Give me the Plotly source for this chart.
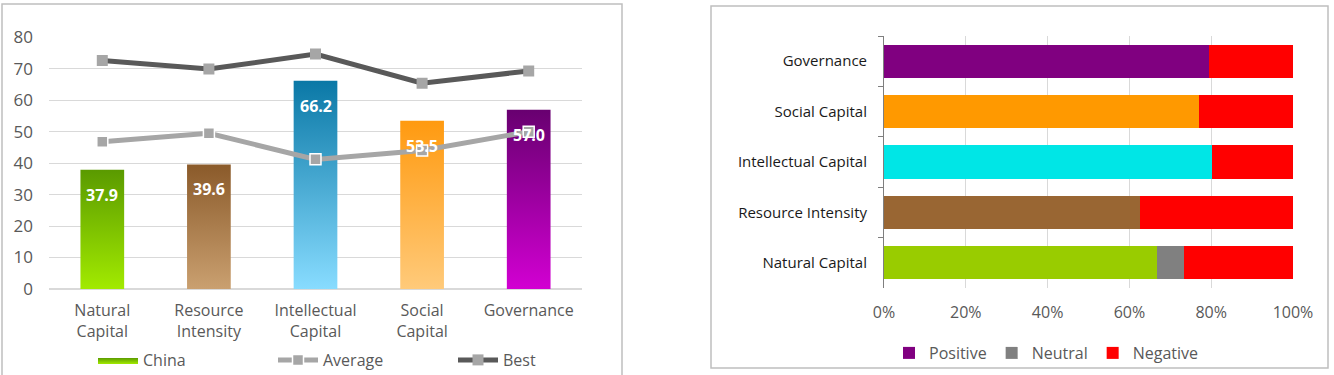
import plotly.graph_objects as go

# ---------------- data ----------------
categories = ["Natural Capital", "Resource Intensity", "Intellectual Capital", "Social Capital", "Governance"]
tick_labels_left = ["Natural<br>Capital", "Resource<br>Intensity", "Intellectual<br>Capital", "Social<br>Capital", "Governance"]
china = [37.9, 39.6, 66.2, 53.5, 57.0]
average = [46.8, 49.5, 41.2, 44.0, 50.0]
best = [72.6, 69.9, 74.7, 65.4, 69.3]
y_ticks = [0, 10, 20, 30, 40, 50, 60, 70, 80]

# right chart (top to bottom)
cats_right = ["Governance", "Social Capital", "Intellectual Capital", "Resource Intensity", "Natural Capital"]
positive = [79.5, 77.0, 80.2, 62.5, 66.7]
neutral = [0.0, 0.0, 0.0, 0.0, 6.7]
negative = [20.5, 23.0, 19.8, 37.5, 26.6]
pct_ticks = [0, 20, 40, 60, 80, 100]

# ---------------- styles ----------------
W, H = 1334, 375
FONT = "Open Sans"
GRAY_TXT = "#595959"
bar_grad = [("#a2ea00", "#5a9a00"), ("#caa070", "#8a5a2a"), ("#88dcff", "#0a78a6"),
            ("#ffca7a", "#ff9a10"), ("#d200d2", "#680070")]
pos_colors = ["#800080", "#ff9900", "#00e6e6", "#996633", "#99cc00"]

fig = go.Figure()

# left chart: gradient bars drawn as filled polygons on a numeric category axis
bw = 0.41
for i, v in enumerate(china):
    bottom, top = bar_grad[i]
    fig.add_trace(go.Scatter(
        x=[i - bw / 2, i + bw / 2, i + bw / 2, i - bw / 2, i - bw / 2],
        y=[0, 0, v, v, 0],
        mode="lines", fill="toself", line=dict(width=0),
        fillgradient=dict(type="vertical", colorscale=[[0, bottom], [1, top]], start=0, stop=v),
        name="China", legendgroup="china", showlegend=(i == 0),
        legend="legend", hoverinfo="skip", xaxis="x", yaxis="y"))

idx = list(range(len(categories)))
fig.add_trace(go.Scatter(x=idx, y=average, mode="lines+markers", name="Average",
                         line=dict(color="#a6a6a6", width=5),
                         marker=dict(symbol="square", size=11, color="#a6a6a6",
                                     line=dict(color="white", width=1.5)),
                         legend="legend", xaxis="x", yaxis="y"))
fig.add_trace(go.Scatter(x=idx, y=best, mode="lines+markers", name="Best",
                         line=dict(color="#595959", width=5),
                         marker=dict(symbol="square", size=11, color="#a6a6a6"),
                         legend="legend", xaxis="x", yaxis="y"))

for i, v in enumerate(china):
    fig.add_annotation(x=i, y=v, xref="x", yref="y", text=f"<b>{v:.1f}</b>",
                       showarrow=False, yshift=-25,
                       font=dict(family=FONT, size=16, color="white"))

# right chart: stacked horizontal bars
fig.add_trace(go.Bar(y=cats_right, x=positive, orientation="h", name="Positive",
                     marker=dict(color=pos_colors, line=dict(width=0)),
                     legend="legend2", xaxis="x2", yaxis="y2"))
fig.add_trace(go.Bar(y=cats_right, x=neutral, orientation="h", name="Neutral",
                     marker=dict(color="#808080", line=dict(width=0)),
                     legend="legend2", xaxis="x2", yaxis="y2"))
fig.add_trace(go.Bar(y=cats_right, x=negative, orientation="h", name="Negative",
                     marker=dict(color="#ff0000", line=dict(width=0)),
                     legend="legend2", xaxis="x2", yaxis="y2"))

def px(x):
    return x / W

def py(y):
    return 1 - y / H

fig.update_layout(
    width=W, height=H, margin=dict(l=0, r=0, t=0, b=0, autoexpand=False),
    paper_bgcolor="white", plot_bgcolor="white",
    font=dict(family=FONT, color=GRAY_TXT, size=16),
    barmode="stack", bargap=0.34,
    xaxis=dict(domain=[px(49), px(582)], range=[-0.5, 4.5], tickvals=idx,
               ticktext=tick_labels_left, showgrid=False, zeroline=False,
               showline=False, ticks="", tickfont=dict(size=16, color=GRAY_TXT),
               ticklabelstandoff=10, fixedrange=True),
    yaxis=dict(domain=[py(289), py(37.3)], range=[0, 80], tickvals=y_ticks,
               showgrid=True, gridcolor="#d9d9d9", gridwidth=1,
               zeroline=True, zerolinecolor="#d9d9d9", zerolinewidth=2,
               showline=False, ticks="", tickfont=dict(size=17, color=GRAY_TXT),
               ticklabelstandoff=15),
    xaxis2=dict(domain=[px(884), px(1293)], range=[0, 100], tickvals=pct_ticks,
                ticktext=[f"{t}%" for t in pct_ticks], showgrid=True,
                gridcolor="#d9d9d9", zeroline=False, showline=False, ticks="",
                anchor="y2", tickfont=dict(size=16, color=GRAY_TXT), ticklabelstandoff=13),
    yaxis2=dict(domain=[py(288), py(36)], autorange="reversed", anchor="x2",
                showline=True, linecolor="#7f7f7f", linewidth=1,
                ticks="outside", tickson="boundaries", ticklen=5, tickcolor="#7f7f7f",
                tickfont=dict(size=15, color="#1a1a1a"), ticklabelstandoff=13),
    legend=dict(orientation="h", x=px(93), y=py(360), xanchor="left", yanchor="middle",
                font=dict(size=16, color=GRAY_TXT), itemwidth=40,
                bgcolor="rgba(0,0,0,0)", traceorder="normal", entrywidth=125),
    legend2=dict(orientation="h", x=px(889), y=py(353), xanchor="left", yanchor="middle",
                 font=dict(size=16, color=GRAY_TXT), bgcolor="rgba(0,0,0,0)",
                 traceorder="normal", itemwidth=30),
    showlegend=True,
    shapes=[
        dict(type="rect", xref="paper", yref="paper", x0=px(2), x1=px(622),
             y0=-0.1, y1=py(4), line=dict(color="#bfbfbf", width=1.5), fillcolor="rgba(0,0,0,0)",
             layer="below"),
        dict(type="rect", xref="paper", yref="paper", x0=px(711), x1=px(1328),
             y0=py(368), y1=py(6), line=dict(color="#bfbfbf", width=1.5), fillcolor="rgba(0,0,0,0)",
             layer="below"),
    ],
)

fig.write_html("out.html", config={"displayModeBar": False},
               post_script="document.body.style.margin='0px';document.body.style.overflow='hidden';")
